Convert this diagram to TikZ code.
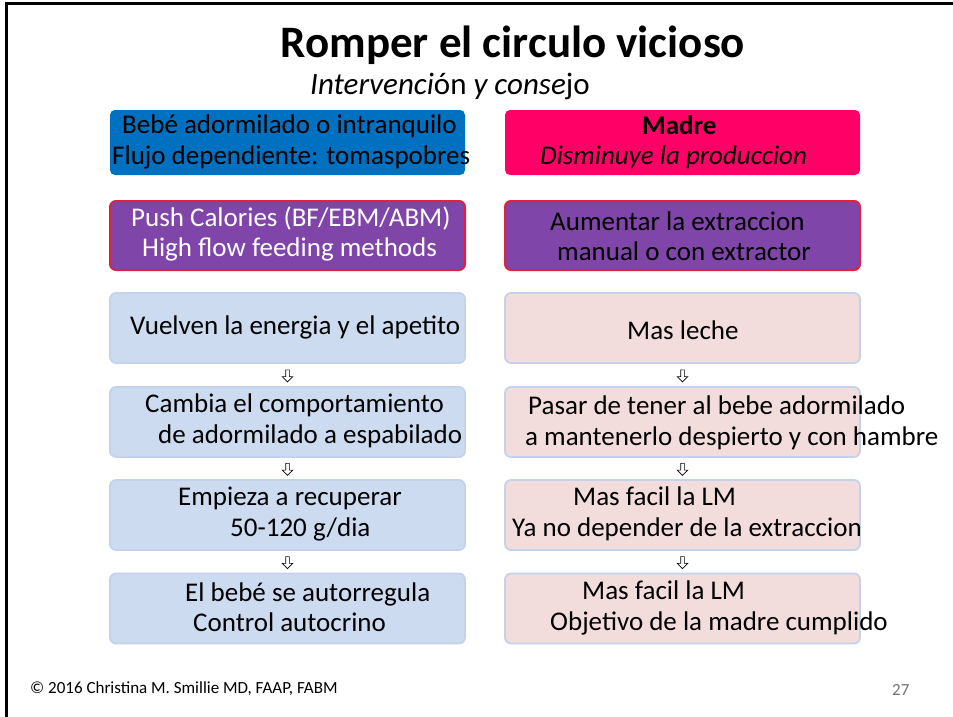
\documentclass[tikz,border=0pt]{standalone}
\usepackage{fontspec}
\setmainfont{Carlito}
\usetikzlibrary{shapes.arrows, positioning, calc}

\definecolor{topblue}{HTML}{0070C0}
\definecolor{toppink}{HTML}{FF0066}
\definecolor{pushpurple}{HTML}{7F45A8}
\definecolor{pushred}{HTML}{E2203F}
\definecolor{stepblue}{HTML}{CDDBF0}
\definecolor{steppink}{HTML}{F2DDDC}
\definecolor{stepline}{HTML}{C4D3EB}

\begin{document}
\begin{tikzpicture}[x=1pt, y=-1pt,
  box/.style={rectangle, rounded corners=6pt, minimum width=355pt, minimum height=70pt, inner sep=0pt},
  headbox/.style={box, minimum height=65pt, rounded corners=5pt},
  pushbox/.style={box, draw=pushred, line width=2pt, fill=pushpurple, minimum height=69pt},
  babybox/.style={box, draw=stepline, line width=1.8pt, fill=stepblue},
  mombox/.style={box, draw=stepline, line width=1.8pt, fill=steppink},
  txt/.style={anchor=west, inner sep=0pt, align=left, font=\fontsize{27}{30.5}\selectfont},
  downarrow/.style={single arrow, draw, fill=white, line width=0.6pt, rotate=-90,
    minimum height=12pt, single arrow head extend=3.5pt, inner sep=1.5pt}
]
  \useasboundingbox (0,0) rectangle (953,717);
  \fill[white] (0,0) rectangle (953,717);
  \draw[line width=3pt] (6,717) -- (6,4) -- (953,4);

  % title
  \node[font=\fontsize{45}{48}\selectfont\bfseries] (title) at (513,45) {Romper el circulo vicioso};
  \node[txt, font=\fontsize{31}{34}\selectfont] (subtitle) at (310,86) {\textit{Intervenci}ón \textit{y conse}jo};

  % boxes
  \node[headbox, fill=topblue] (b0l) at (287.5,142.5) {};
  \node[headbox, fill=toppink] (b0r) at (682.5,142.5) {};
  \node[pushbox] (b1l) at (287.5,235.5) {};
  \node[pushbox] (b1r) at (682.5,235.5) {};
  \foreach \row/\y in {2/328, 3/422, 4/515, 5/608.5} {
    \node[babybox] (b\row l) at (287.5,\y) {};
    \node[mombox] (b\row r) at (682.5,\y) {};
  }

  % arrows between the steps
  \foreach \a/\b in {2/3, 3/4, 4/5} {
    \node[downarrow] (a\a l) at ($(b\a l.south)!0.5!(b\b l.north)$) {};
    \node[downarrow] (a\a r) at ($(b\a r.south)!0.5!(b\b r.north)$) {};
  }

  % texts
  \node[txt] (t0l) at (112,142) {\hspace*{10pt}Bebé adormilado o intranquilo\\Flujo dependiente: tomaspobres};
  \node[txt] (t0r) at (540,142) {\hspace*{102pt}\textbf{Madre}\\\textit{Disminuye la produccion}};
  \node[txt, text=white] (t1l) at (131,234) {Push Calories (BF/EBM/ABM)\\\hspace*{11pt}High flow feeding methods};
  \node[txt] (t1r) at (550,236) {Aumentar la extraccion\\\hspace*{7pt}manual o con extractor};
  \node[txt] (t2l) at (130,327) {Vuelven la energia y el apetito};
  \node[txt] (t2r) at (627,330) {Mas leche};
  \node[txt] (t3l) at (145,421) {Cambia el comportamiento\\\hspace*{13pt}de adormilado a espabilado};
  \node[txt] (t3r) at (525,423) {\hspace*{3pt}Pasar de tener al bebe adormilado\\a mantenerlo despierto y con hambre};
  \node[txt] (t4l) at (178,514) {Empieza a recuperar\\\hspace*{52pt}50-120 g/dia};
  \node[txt] (t4r) at (512,514) {\hspace*{61pt}Mas facil la LM\\Ya no depender de la extraccion};
  \node[txt] (t5l) at (185,607) {El bebé se autorregula\\\hspace*{8pt}Control autocrino};
  \node[txt] (t5r) at (550,608) {\hspace*{32pt}Mas facil la LM\\Objetivo de la madre cumplido};

  % footer
  \node[txt, font=\fontsize{17}{20}\selectfont] (copyright) at (30,689) {© 2016 Christina M. Smillie MD, FAAP, FABM};
  \node[txt, font=\fontsize{17}{20}\selectfont, text=black!55] (page) at (892,690) {27};
\end{tikzpicture}
\end{document}
